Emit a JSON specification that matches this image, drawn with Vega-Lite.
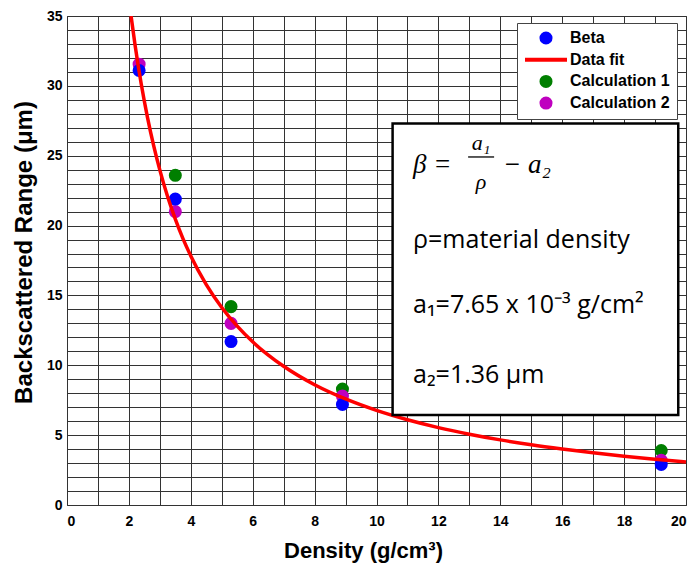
{
  "$schema": "https://vega.github.io/schema/vega-lite/v6.json",
  "width": 619,
  "height": 489,
  "autosize": "none",
  "padding": {"left": 67, "top": 16, "right": 10, "bottom": 62},
  "background": "white",
  "config": {
    "font": "Liberation Sans",
    "view": {"stroke": "#333", "strokeWidth": 1},
    "axis": {
      "grid": true,
      "gridColor": "#333",
      "gridWidth": 1,
      "gridOpacity": 1,
      "ticks": false,
      "domain": false,
      "labelFont": "Liberation Sans",
      "labelFontWeight": "bold",
      "labelFontSize": 14,
      "labelColor": "#000",
      "labelOverlap": false,
      "titleFont": "Liberation Sans",
      "titleFontWeight": "bold",
      "titleColor": "#000"
    },
    "legend": {
      "orient": "none",
      "legendX": 450,
      "legendY": 7,
      "fillColor": "white",
      "strokeColor": "#444",
      "padding": 7,
      "labelFont": "Liberation Sans",
      "labelFontWeight": "bold",
      "labelFontSize": 16,
      "labelColor": "#000",
      "symbolSize": 170,
      "symbolOffset": 14,
      "labelOffset": 16,
      "rowPadding": 5.7
    }
  },
  "datasets": {
    "points": [
      {"x": 3.5, "y": 23.6, "series": "Calculation 1"},
      {"x": 5.3, "y": 14.2, "series": "Calculation 1"},
      {"x": 8.9, "y": 8.3, "series": "Calculation 1"},
      {"x": 19.2, "y": 3.9, "series": "Calculation 1"},
      {"x": 2.33, "y": 31.55, "series": "Calculation 2"},
      {"x": 3.5, "y": 21.0, "series": "Calculation 2"},
      {"x": 5.3, "y": 13.0, "series": "Calculation 2"},
      {"x": 8.9, "y": 7.8, "series": "Calculation 2"},
      {"x": 19.2, "y": 3.2, "series": "Calculation 2"},
      {"x": 2.33, "y": 31.1, "series": "Beta"},
      {"x": 3.5, "y": 21.9, "series": "Beta"},
      {"x": 5.3, "y": 11.7, "series": "Beta"},
      {"x": 8.9, "y": 7.2, "series": "Beta"},
      {"x": 19.2, "y": 2.9, "series": "Beta"}
    ],
    "fit": [
      {"x": 2.07, "y": 35.0, "series": "Data fit"},
      {"x": 2.2, "y": 32.9, "series": "Data fit"},
      {"x": 2.4, "y": 30.11, "series": "Data fit"},
      {"x": 2.6, "y": 27.75, "series": "Data fit"},
      {"x": 2.8, "y": 25.72, "series": "Data fit"},
      {"x": 3.0, "y": 23.97, "series": "Data fit"},
      {"x": 3.25, "y": 22.08, "series": "Data fit"},
      {"x": 3.5, "y": 20.46, "series": "Data fit"},
      {"x": 3.75, "y": 19.05, "series": "Data fit"},
      {"x": 4.0, "y": 17.83, "series": "Data fit"},
      {"x": 4.5, "y": 15.78, "series": "Data fit"},
      {"x": 5.0, "y": 14.14, "series": "Data fit"},
      {"x": 5.5, "y": 12.8, "series": "Data fit"},
      {"x": 6.0, "y": 11.68, "series": "Data fit"},
      {"x": 7.0, "y": 9.93, "series": "Data fit"},
      {"x": 8.0, "y": 8.61, "series": "Data fit"},
      {"x": 9.0, "y": 7.59, "series": "Data fit"},
      {"x": 10.0, "y": 6.77, "series": "Data fit"},
      {"x": 11.0, "y": 6.1, "series": "Data fit"},
      {"x": 12.0, "y": 5.54, "series": "Data fit"},
      {"x": 13.0, "y": 5.07, "series": "Data fit"},
      {"x": 14.0, "y": 4.66, "series": "Data fit"},
      {"x": 15.0, "y": 4.31, "series": "Data fit"},
      {"x": 16.0, "y": 4.01, "series": "Data fit"},
      {"x": 17.0, "y": 3.74, "series": "Data fit"},
      {"x": 18.0, "y": 3.49, "series": "Data fit"},
      {"x": 19.0, "y": 3.28, "series": "Data fit"},
      {"x": 20.0, "y": 3.085, "series": "Data fit"}
    ],
    "box": [{"x": 10.52, "x2": 19.75, "y": 27.31, "y2": 6.44}],
    "eqLeft": [{"x": 11.18, "y": 24.34, "t": "β ="}],
    "eqRight": [{"x": 14.09, "y": 24.34, "t": "− a₂"}],
    "frac": [
      {"x": 13.38, "y": 25.9, "t": "a₁"},
      {"x": 13.38, "y": 23.12, "t": "ρ"}
    ],
    "bar": [{"x": 12.96, "x2": 13.8, "y": 24.91}],
    "body": [
      {"x": 11.18, "y": 18.97, "t": "ρ=material density"},
      {"x": 11.18, "y": 14.31, "t": "a₁=7.65 x 10⁻³ g/cm²"},
      {"x": 11.18, "y": 9.3, "t": "a₂=1.36 μm"}
    ]
  },
  "encoding": {
    "x": {
      "field": "x", "type": "quantitative",
      "scale": {"domain": [0, 20], "nice": false, "zero": false},
      "axis": {
        "title": "Density (g/cm³)",
        "values": [0,1,2,3,4,5,6,7,8,9,10,11,12,13,14,15,16,17,18,19,20],
        "labelExpr": "datum.value % 2 === 0 ? datum.label : ''",
        "labelPadding": 9,
        "titleFontSize": 22,
        "titleX": 296,
        "titleY": 52,
        "titleBaseline": "alphabetic",
        "titleAlign": "center"
      }
    },
    "y": {
      "field": "y", "type": "quantitative",
      "scale": {"domain": [0, 35], "nice": false, "zero": false},
      "axis": {
        "title": "Backscattered Range (μm)",
        "values": [0,1,2,3,4,5,6,7,8,9,10,11,12,13,14,15,16,17,18,19,20,21,22,23,24,25,26,27,28,29,30,31,32,33,34,35],
        "labelExpr": "datum.value % 5 === 0 ? datum.label : ''",
        "labelPadding": 5,
        "titleFontSize": 24,
        "titleX": -43,
        "titleY": 236,
        "titleAngle": -90,
        "titleBaseline": "middle",
        "titleAlign": "center"
      }
    }
  },
  "layer": [
    {
      "data": {"name": "points"},
      "mark": {"type": "circle", "size": 170, "opacity": 1},
      "encoding": {
        "color": {
          "field": "series", "type": "nominal",
          "scale": {
            "domain": ["Beta", "Data fit", "Calculation 1", "Calculation 2"],
            "range": ["#0000ff", "#ff0000", "#007f00", "#bf00bf"]
          },
          "legend": {
            "title": null,
            "encode": {
              "symbols": {
                "update": {
                  "shape": {"signal": "datum.value === 'Data fit' ? 'stroke' : 'circle'"},
                  "size": {"signal": "datum.value === 'Data fit' ? 1764 : 170"},
                  "fill": {"scale": "color", "field": "value"},
                  "stroke": {"scale": "color", "field": "value"},
                  "strokeWidth": {"signal": "datum.value === 'Data fit' ? 4 : 0"},
                  "opacity": {"value": 1},
                  "fillOpacity": {"value": 1},
                  "strokeOpacity": {"value": 1}
                }
              }
            }
          }
        }
      }
    },
    {
      "data": {"name": "fit"},
      "mark": {"type": "line", "strokeWidth": 3.5, "interpolate": "monotone", "clip": true},
      "encoding": {
        "color": {
          "field": "series", "type": "nominal",
          "legend": {
            "title": null,
            "encode": {
              "symbols": {
                "update": {
                  "shape": {"signal": "datum.value === 'Data fit' ? 'stroke' : 'circle'"},
                  "size": {"signal": "datum.value === 'Data fit' ? 1764 : 170"},
                  "fill": {"scale": "color", "field": "value"},
                  "stroke": {"scale": "color", "field": "value"},
                  "strokeWidth": {"signal": "datum.value === 'Data fit' ? 4 : 0"},
                  "opacity": {"value": 1},
                  "fillOpacity": {"value": 1},
                  "strokeOpacity": {"value": 1}
                }
              }
            }
          }
        }
      }
    },
    {
      "data": {"name": "box"},
      "mark": {"type": "rect", "fill": "white", "stroke": "#000", "strokeWidth": 2.5},
      "encoding": {
        "x2": {"field": "x2"},
        "y2": {"field": "y2"}
      }
    },
    {
      "data": {"name": "bar"},
      "mark": {"type": "rule", "stroke": "#000", "strokeWidth": 1.3},
      "encoding": {
        "x2": {"field": "x2"}
      }
    },
    {
      "data": {"name": "eqLeft"},
      "mark": {"type": "text", "font": "Liberation Serif", "fontStyle": "italic", "fontSize": 27, "align": "left", "baseline": "middle", "color": "#000"},
      "encoding": {
        "text": {"field": "t"}
      }
    },
    {
      "data": {"name": "eqRight"},
      "mark": {"type": "text", "font": "Liberation Serif", "fontStyle": "italic", "fontSize": 27, "align": "left", "baseline": "middle", "color": "#000"},
      "encoding": {
        "text": {"field": "t"}
      }
    },
    {
      "data": {"name": "frac"},
      "mark": {"type": "text", "font": "Liberation Serif", "fontStyle": "italic", "fontSize": 22, "align": "center", "baseline": "middle", "color": "#000"},
      "encoding": {
        "text": {"field": "t"}
      }
    },
    {
      "data": {"name": "body"},
      "mark": {"type": "text", "font": "Open Sans", "fontSize": 25, "align": "left", "baseline": "middle", "color": "#000"},
      "encoding": {
        "text": {"field": "t"}
      }
    }
  ]
}
